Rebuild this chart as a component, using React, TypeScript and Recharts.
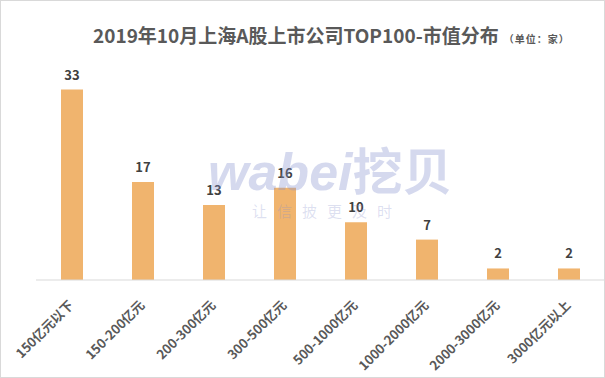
import { Bar, BarChart, LabelList, XAxis, YAxis } from 'recharts';

const categories = ['150亿元以下', '150-200亿元', '200-300亿元', '300-500亿元', '500-1000亿元', '1000-2000亿元', '2000-3000亿元', '3000亿元以上'];
const counts = [33, 17, 13, 16, 10, 7, 2, 2];

const data = categories.map((name, i) => ({ name, count: counts[i] }));

const FONT = '"Noto Sans CJK SC", "Microsoft YaHei", sans-serif';

const AngledTick = ({ x, y, payload }: { x: number; y: number; payload: { value: string } }) => (
  <text
    transform={`translate(${x + 3}, ${y + 18}) rotate(-45)`}
    textAnchor="end"
    fontSize={13}
    fontWeight={700}
    fontFamily={FONT}
    fill="#595959"
  >
    {payload.value}
  </text>
);

export default function App() {
  return (
    <div style={{ position: 'relative', width: 605, height: 378, background: '#fff', fontFamily: FONT }}>
      <style>{'body{margin:0}'}</style>
      <div
        style={{
          position: 'absolute',
          inset: 0,
          border: '1px solid #D9D9D9',
          boxSizing: 'border-box',
          pointerEvents: 'none',
        }}
      />
      <div
        style={{
          position: 'absolute',
          left: 93,
          top: 21,
          whiteSpace: 'nowrap',
          color: '#595959',
          fontWeight: 700,
          fontSize: 19,
          lineHeight: '28px',
        }}
      >
        2019年10月上海A股上市公司TOP100-市值分布
        <span style={{ fontSize: 10, marginLeft: 5, letterSpacing: 1 }}>（单位：家）</span>
      </div>
      <div style={{ position: 'absolute', left: 0, top: 0 }}>
        <BarChart width={605} height={378} data={data} margin={{ top: 78, right: 1, bottom: 0, left: 36 }}>
          <XAxis
            dataKey="name"
            axisLine={{ stroke: '#D9D9D9' }}
            tickLine={false}
            interval={0}
            tick={AngledTick}
            height={98}
          />
          <YAxis hide domain={[0, 35]} />
          <Bar dataKey="count" fill="#F0B46E" barSize={22} isAnimationActive={false}>
            <LabelList
              dataKey="count"
              position="top"
              offset={10}
              fontSize={13}
              fontWeight={700}
              fontFamily={FONT}
              fill="#404040"
            />
          </Bar>
        </BarChart>
      </div>
      <div
        style={{
          position: 'absolute',
          left: 208,
          top: 138,
          pointerEvents: 'none',
          color: 'rgba(135,145,205,0.35)',
          whiteSpace: 'nowrap',
        }}
      >
        <div style={{ fontFamily: 'Arial, "Liberation Sans", sans-serif', fontStyle: 'italic', fontWeight: 700, fontSize: 52, lineHeight: '60px' }}>
          wabei<span style={{ fontFamily: FONT, fontStyle: 'normal', fontSize: 50 }}>挖贝</span>
        </div>
        <div style={{ fontSize: 15, letterSpacing: 10, marginLeft: 44, marginTop: -2, color: 'rgba(135,145,205,0.28)' }}>让信披更及时</div>
      </div>
    </div>
  );
}
